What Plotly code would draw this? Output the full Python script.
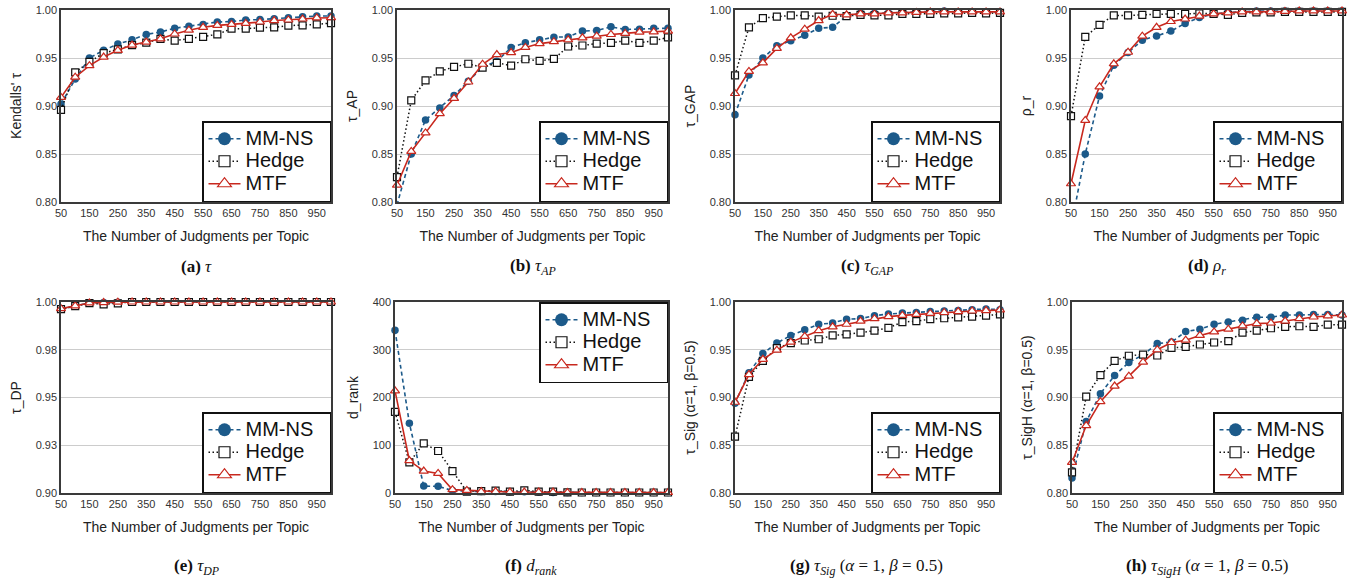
import plotly.graph_objects as go

W, H = 1354, 582

judgments = list(range(50, 1001, 50))
tick_vals_x = list(range(50, 1000, 100))
series_names = ["MM-NS", "Hedge", "MTF"]

# (a) Kendall's tau
tau_mmns = [0.902, 0.928, 0.950, 0.958, 0.9645, 0.969, 0.9746, 0.977, 0.981, 0.983, 0.985, 0.9875, 0.988, 0.9896, 0.990, 0.991, 0.992, 0.993, 0.9937, 0.9937]
tau_hedge = [0.896, 0.935, 0.946, 0.955, 0.959, 0.9635, 0.966, 0.970, 0.968, 0.970, 0.972, 0.9746, 0.9805, 0.9805, 0.9816, 0.982, 0.9837, 0.984, 0.985, 0.9864]
tau_mtf = [0.909, 0.930, 0.942, 0.951, 0.958, 0.9635, 0.9666, 0.970, 0.975, 0.979, 0.982, 0.984, 0.985, 0.986, 0.9875, 0.989, 0.9896, 0.9906, 0.9917, 0.992]

# (b) tau_AP
ap_mmns = [0.797, 0.850, 0.8855, 0.898, 0.911, 0.9257, 0.9407, 0.9466, 0.961, 0.9658, 0.969, 0.9717, 0.972, 0.978, 0.9787, 0.9825, 0.9797, 0.980, 0.981, 0.981]
ap_hedge = [0.826, 0.9058, 0.9267, 0.936, 0.9407, 0.944, 0.940, 0.945, 0.942, 0.9487, 0.947, 0.949, 0.962, 0.963, 0.965, 0.9658, 0.968, 0.9658, 0.968, 0.9714]
ap_mtf = [0.8175, 0.8527, 0.872, 0.892, 0.908, 0.925, 0.9435, 0.9536, 0.9557, 0.961, 0.965, 0.967, 0.969, 0.971, 0.9728, 0.9745, 0.9756, 0.977, 0.9773, 0.978]

# (c) tau_GAP
gap_mmns = [0.891, 0.9323, 0.950, 0.9627, 0.968, 0.9738, 0.981, 0.982, 0.9937, 0.9965, 0.9965, 0.997, 0.997, 0.998, 0.998, 0.999, 0.998, 0.998, 0.998, 0.9975]
gap_hedge = [0.932, 0.982, 0.9916, 0.993, 0.9944, 0.9944, 0.993, 0.994, 0.9937, 0.995, 0.9944, 0.9944, 0.996, 0.996, 0.996, 0.9965, 0.9965, 0.997, 0.9965, 0.997]
gap_mtf = [0.913, 0.936, 0.945, 0.960, 0.971, 0.980, 0.989, 0.9955, 0.995, 0.996, 0.996, 0.997, 0.997, 0.9975, 0.998, 0.998, 0.998, 0.998, 0.998, 0.998]

# (d) rho_r
rho_mmns = [0.774, 0.850, 0.9103, 0.9424, 0.9557, 0.9686, 0.973, 0.978, 0.986, 0.9923, 0.9958, 0.9975, 0.998, 0.999, 0.999, 0.999, 0.999, 0.999, 0.999, 0.999]
rho_hedge = [0.8894, 0.972, 0.9846, 0.9944, 0.9944, 0.995, 0.996, 0.996, 0.996, 0.9965, 0.996, 0.995, 0.997, 0.9975, 0.9975, 0.998, 0.998, 0.998, 0.998, 0.998]
rho_mtf = [0.819, 0.885, 0.920, 0.944, 0.956, 0.9728, 0.982, 0.988, 0.9906, 0.9937, 0.996, 0.997, 0.998, 0.998, 0.998, 0.9985, 0.999, 0.999, 0.999, 0.999]

# (e) tau_DP
dp_mmns = [0.9963, 0.9979, 0.9995, 0.9997, 0.9999, 1.0, 1.0, 1.0, 1.0, 1.0, 1.0, 1.0, 1.0, 1.0, 1.0, 1.0, 1.0, 1.0, 1.0, 1.0]
dp_hedge = [0.9963, 0.9978, 0.9994, 0.9988, 0.9993, 1.0, 1.0, 1.0, 1.0, 1.0, 1.0, 1.0, 1.0, 1.0, 1.0, 1.0, 1.0, 1.0, 1.0, 1.0]
dp_mtf = [0.9965, 0.9980, 0.9995, 0.9997, 0.9999, 1.0, 1.0, 1.0, 1.0, 1.0, 1.0, 1.0, 1.0, 1.0, 1.0, 1.0, 1.0, 1.0, 1.0, 1.0]

# (f) d_rank
dr_mmns = [341, 146, 14.5, 14, 5, 3.5, 3, 3, 2.5, 2.5, 2, 1, 1, 1, 1, 1, 1, 1, 1, 1]
dr_hedge = [170, 64, 104, 88, 46, 3, 4, 5, 3, 5.5, 3, 3, 1.5, 1, 1, 1, 1, 1, 1, 1]
dr_mtf = [214, 68, 46, 41, 7, 5.5, 3, 3, 2, 2, 2, 2, 1, 1, 1, 1, 1, 1, 1, 1]

# (g) tau_Sig
sig_mmns = [0.894, 0.926, 0.946, 0.957, 0.965, 0.971, 0.9767, 0.978, 0.982, 0.9826, 0.9857, 0.9875, 0.9885, 0.989, 0.990, 0.9906, 0.991, 0.992, 0.9927, 0.992]
sig_hedge = [0.859, 0.9217, 0.9384, 0.9517, 0.957, 0.9597, 0.961, 0.965, 0.966, 0.968, 0.970, 0.973, 0.979, 0.980, 0.982, 0.983, 0.984, 0.9847, 0.9857, 0.987]
sig_mtf = [0.895, 0.924, 0.940, 0.9496, 0.958, 0.964, 0.970, 0.974, 0.9767, 0.980, 0.9826, 0.9847, 0.986, 0.987, 0.988, 0.989, 0.990, 0.9906, 0.991, 0.9917]

# (h) tau_SigH
sigh_mmns = [0.8157, 0.8748, 0.904, 0.923, 0.9367, 0.9447, 0.9565, 0.958, 0.969, 0.9715, 0.9767, 0.979, 0.981, 0.984, 0.984, 0.9864, 0.9864, 0.987, 0.987, 0.9864]
sigh_hedge = [0.8216, 0.901, 0.9235, 0.9384, 0.9437, 0.945, 0.944, 0.952, 0.953, 0.9555, 0.9576, 0.959, 0.968, 0.970, 0.9725, 0.974, 0.9746, 0.974, 0.9763, 0.9763]
sigh_mtf = [0.832, 0.8706, 0.8957, 0.912, 0.9224, 0.937, 0.950, 0.9576, 0.960, 0.965, 0.9687, 0.9715, 0.975, 0.9774, 0.978, 0.980, 0.9826, 0.9843, 0.9854, 0.9864]

tau_ticks = [0.80, 0.85, 0.90, 0.95, 1.00]
tau_ticktext = ["0.80", "0.85", "0.90", "0.95", "1.00"]
dp_ticks = [0.900, 0.925, 0.950, 0.975, 1.000]
dp_ticktext = ["0.90", "0.93", "0.95", "0.98", "1.00"]
dr_ticks = [0, 100, 200, 300, 400]
dr_ticktext = ["0", "100", "200", "300", "400"]

BLUE = "#1c5a8a"
RED = "#c8281e"

panels = [
    dict(ylabel="Kendalls' τ", data=(tau_mmns, tau_hedge, tau_mtf), yr=[0.8, 1.0], tv=tau_ticks, tt=tau_ticktext,
         xd=(61, 331), yd=(10, 202), leg="bottom", cap="<b>(a)</b> <i>τ</i>", cx=196),
    dict(ylabel="τ_AP", data=(ap_mmns, ap_hedge, ap_mtf), yr=[0.8, 1.0], tv=tau_ticks, tt=tau_ticktext,
         xd=(397, 668), yd=(10, 202), leg="bottom", cap="<b>(b)</b> <i>τ<sub>AP</sub></i>", cx=533),
    dict(ylabel="τ_GAP", data=(gap_mmns, gap_hedge, gap_mtf), yr=[0.8, 1.0], tv=tau_ticks, tt=tau_ticktext,
         xd=(735, 1000), yd=(10, 202), leg="bottom", cap="<b>(c)</b> <i>τ<sub>GAP</sub></i>", cx=867),
    dict(ylabel="ρ_r", data=(rho_mmns, rho_hedge, rho_mtf), yr=[0.8, 1.0], tv=tau_ticks, tt=tau_ticktext,
         xd=(1071, 1342), yd=(10, 202), leg="bottom", cap="<b>(d)</b> <i>ρ<sub>r</sub></i>", cx=1207),
    dict(ylabel="τ_DP", data=(dp_mmns, dp_hedge, dp_mtf), yr=[0.9, 1.0], tv=dp_ticks, tt=dp_ticktext,
         xd=(61, 331), yd=(302, 493), leg="bottom", cap="<b>(e)</b> <i>τ<sub>DP</sub></i>", cx=196),
    dict(ylabel="d_rank", data=(dr_mmns, dr_hedge, dr_mtf), yr=[0, 400], tv=dr_ticks, tt=dr_ticktext,
         xd=(395, 668), yd=(302, 493), leg="top", cap="<b>(f)</b> <i>d<sub>rank</sub></i>", cx=531),
    dict(ylabel="τ_Sig (α=1, β=0.5)", data=(sig_mmns, sig_hedge, sig_mtf), yr=[0.8, 1.0], tv=tau_ticks, tt=tau_ticktext,
         xd=(735, 1000), yd=(302, 493), leg="bottom", cap="<b>(g)</b> <i>τ<sub>Sig</sub></i> (<i>α</i> = 1, <i>β</i> = 0.5)", cx=866),
    dict(ylabel="τ_SigH (α=1, β=0.5)", data=(sigh_mmns, sigh_hedge, sigh_mtf), yr=[0.8, 1.0], tv=tau_ticks, tt=tau_ticktext,
         xd=(1072, 1342), yd=(302, 493), leg="bottom", cap="<b>(h)</b> <i>τ<sub>SigH</sub></i> (<i>α</i> = 1, <i>β</i> = 0.5)", cx=1207),
]

line_styles = [
    dict(color=BLUE, width=1.6, dash="4px,3px"),
    dict(color="#111111", width=1.5, dash="1.5px,2.5px"),
    dict(color=RED, width=1.6),
]
marker_styles = [
    dict(symbol="circle", color=BLUE, line=dict(width=0)),
    dict(symbol="square", color="white", line=dict(color="#111111", width=1.2)),
    dict(symbol="triangle-up", color="white", line=dict(color=RED, width=1.2)),
]
plot_marker_sizes = [7.5, 7, 8]
legend_marker_sizes = [13, 11, 12]
legend_labels = [
    '<span style="font-size:20px">MM-NS\u00a0\u00a0</span>',
    '<span style="font-size:20px">Hedge</span>',
    '<span style="font-size:20px">MTF</span>',
]

fig = go.Figure()
layout = dict(
    width=W, height=H, margin=dict(l=0, r=0, t=0, b=0),
    paper_bgcolor="white", plot_bgcolor="white",
    font=dict(family="Liberation Sans, Arial, sans-serif", color="#222222"),
    template="none",
    annotations=[],
)

def fx(px):
    return px / W

def fy(py):
    return 1 - py / H

for i, p in enumerate(panels):
    n = "" if i == 0 else str(i + 1)
    xa, ya = "x" + n, "y" + n
    leg = "legend" + n
    lo, hi = p["yr"]
    for k in range(3):
        ys = p["data"][k]
        mk = dict(marker_styles[k])
        mk["size"] = plot_marker_sizes[k]
        mk["opacity"] = [1 if lo <= v <= hi else 0 for v in ys]
        fig.add_trace(go.Scatter(
            x=judgments, y=ys, mode="lines+markers", name=series_names[k],
            line=line_styles[k], marker=mk, xaxis=xa, yaxis=ya,
            cliponaxis=False, showlegend=False,
        ))
    # legend entries (larger symbols, as in the reference legend)
    for k in range(3):
        mk = dict(marker_styles[k])
        mk["size"] = legend_marker_sizes[k]
        fig.add_trace(go.Scatter(
            x=[None], y=[None], mode="lines+markers", name=legend_labels[k],
            line=line_styles[k], marker=mk, xaxis=xa, yaxis=ya,
            legend=leg, legendrank=k + 1, showlegend=True,
        ))
    layout["xaxis" + n] = dict(
        domain=[fx(p["xd"][0]), fx(p["xd"][1])], anchor=ya, range=[50, 1000],
        tickvals=tick_vals_x, ticktext=[str(v) for v in tick_vals_x],
        showgrid=False, zeroline=False, showline=True, mirror=True,
        linecolor="#3a3a3a", linewidth=1.5, ticks="", tickfont=dict(size=11, color="#333333"),
        title=dict(text="The Number of Judgments per Topic", font=dict(size=14, color="#222222"), standoff=13),
        automargin=False,
    )
    layout["yaxis" + n] = dict(
        domain=[fy(p["yd"][1]), fy(p["yd"][0])], anchor=xa, range=p["yr"],
        tickvals=p["tv"], ticktext=p["tt"],
        showgrid=True, gridcolor="#cccccc", gridwidth=1, zeroline=False,
        showline=True, mirror=True, linecolor="#3a3a3a", linewidth=1.5, ticks="",
        tickfont=dict(size=11, color="#333333"),
        title=dict(text=p["ylabel"], font=dict(size=14, color="#222222"), standoff=11),
        automargin=False,
    )
    if p["leg"] == "bottom":
        lx, ly, ya_ = fx(p["xd"][1]), fy(p["yd"][1]), "bottom"
    else:
        lx, ly, ya_ = fx(p["xd"][1]), fy(p["yd"][0]), "top"
    layout[leg] = dict(
        x=lx, y=ly, xanchor="right", yanchor=ya_, xref="paper", yref="paper",
        bgcolor="white", bordercolor="#111111", borderwidth=1.5,
        font=dict(size=15, color="#111111"), tracegroupgap=0,
        itemwidth=32,
    )
    cap_y = 267 if p["yd"][0] < 100 else 567
    layout["annotations"].append(dict(
        text=p["cap"], x=fx(p["cx"]), y=fy(cap_y), xref="paper", yref="paper",
        xanchor="center", yanchor="middle", showarrow=False,
        font=dict(family="Liberation Serif, DejaVu Serif, serif", size=17, color="#111111"),
    ))

fig.update_layout(**layout)
fig.write_html("out.html")
